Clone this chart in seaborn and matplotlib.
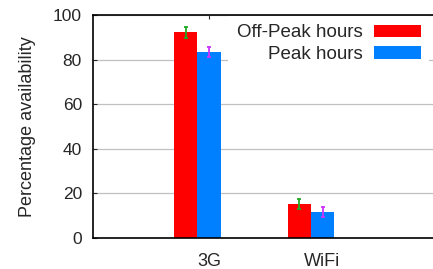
import numpy as np
import pandas as pd
import matplotlib
matplotlib.use("Agg")
import matplotlib.pyplot as plt
import seaborn as sns

# values
categories = ["3G", "WiFi"]
series_names = ["Off-Peak hours", "Peak hours"]
offpeak = [92.2, 15.1]
peak = [83.5, 11.8]
offpeak_err = [2.6, 2.2]
peak_err = [2.2, 2.3]
y_ticks = [0, 20, 40, 60, 80, 100]

bar_colors = ["#ff0000", "#0080ff"]
err_colors = ["#22aa22", "#cc33ff"]

sns.set_style("white")
plt.rcParams["font.family"] = ["Liberation Sans", "DejaVu Sans"]

df = pd.DataFrame({
    "network": categories * 2,
    "period": [series_names[0]] * 2 + [series_names[1]] * 2,
    "value": offpeak + peak,
})

fig = plt.figure(figsize=(4.33, 2.69), dpi=100)
ax = fig.add_axes([93 / 433, 31 / 269, 340 / 433, 223 / 269])

sns.barplot(data=df, x="network", y="value", hue="period",
            order=categories, hue_order=series_names, palette=bar_colors,
            width=0.41, errorbar=None, saturation=1, linewidth=0, ax=ax)

# error bars at the bar centres
for cont, errs, col in zip(ax.containers, [offpeak_err, peak_err], err_colors):
    xs = [p.get_x() + p.get_width() / 2 for p in cont]
    ys = [p.get_height() for p in cont]
    ax.errorbar(xs, ys, yerr=errs, fmt="none", ecolor=col,
                elinewidth=1.3, capsize=1.6, capthick=1.3, zorder=3)

# gnuplot style: tics sit on the second (blue) bar of each cluster
blue = ax.containers[1]
tick_x = [p.get_x() + p.get_width() / 2 for p in blue]
unit = tick_x[1] - tick_x[0]
ax.set_xticks(tick_x)
ax.set_xticklabels(categories)
ax.set_xlim(tick_x[0] - 116 / 113.5 * unit, tick_x[0] + 224 / 113.5 * unit)

ax.set_ylim(0, 100)
ax.set_yticks(y_ticks)
ax.set_xlabel("")
ax.set_ylabel("Percentage availability", fontsize=13, labelpad=12)

ax.set_axisbelow(True)
ax.yaxis.grid(True, color="#c0c0c0", linewidth=0.9)
ax.xaxis.grid(False)

for side in ["top", "bottom", "left"]:
    ax.spines[side].set_color("black")
    ax.spines[side].set_linewidth(1.2)
ax.spines["right"].set_visible(False)

ax.tick_params(axis="y", direction="in", length=3, width=0.8,
               labelsize=12.5, pad=8, left=True)
ax.tick_params(axis="x", direction="in", length=3, width=0.8,
               labelsize=13, pad=11, bottom=False, top=True)

# opaque key box, drawn under the spines
handles, labels = ax.get_legend_handles_labels()
leg = ax.legend(handles, labels, loc="upper right",
                bbox_to_anchor=(429 / 433, 1 - 16 / 269),
                bbox_transform=fig.transFigure, borderaxespad=0,
                markerfirst=False, fontsize=13.5, frameon=True,
                handlelength=2.5, handleheight=0.65, handletextpad=0.6,
                labelspacing=0.25, borderpad=0.45, fancybox=False)
leg.get_frame().set_facecolor("white")
leg.get_frame().set_edgecolor("none")
leg.get_frame().set_alpha(1)
leg.set_zorder(2)

fig.savefig("out.png", dpi=100)
